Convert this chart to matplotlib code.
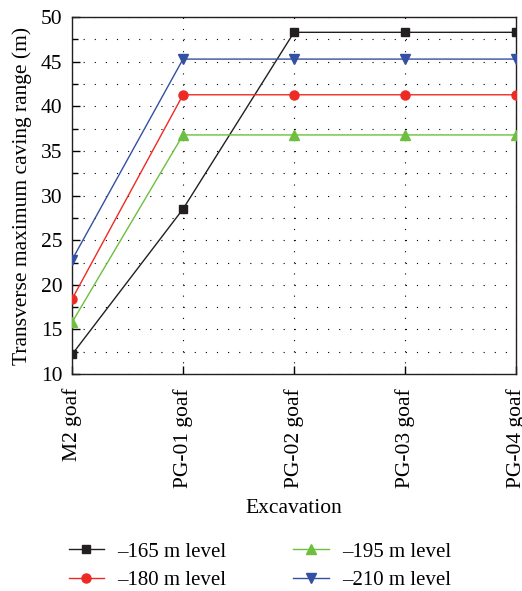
import matplotlib
matplotlib.use("Agg")
import matplotlib.pyplot as plt
from matplotlib.ticker import MultipleLocator

plt.rcParams['font.family'] = ['Liberation Serif', 'DejaVu Serif']

categories = ["M2 goaf", "PG-01 goaf", "PG-02 goaf", "PG-03 goaf", "PG-04 goaf"]
s165 = [12.2, 28.5, 48.3, 48.3, 48.3]
s180 = [18.4, 41.3, 41.3, 41.3, 41.3]
s195 = [15.8, 36.8, 36.8, 36.8, 36.8]
s210 = [22.8, 45.3, 45.3, 45.3, 45.3]
labels = ["\u2013165 m level", "\u2013180 m level", "\u2013195 m level", "\u2013210 m level"]

fig = plt.figure(figsize=(5.22, 5.91), dpi=100)
ax = fig.add_axes([0.138, 0.367, 0.8505, 0.604])

x = list(range(len(categories)))
series = [
    (s165, '#231f20', 's', 5.5),
    (s180, '#ee2a24', 'o', 6.5),
    (s195, '#6cbf3f', '^', 7),
    (s210, '#3350a3', 'v', 7),
]
handles = []
for (vals, col, mk, ms), lab in zip(series, labels):
    h, = ax.plot(x, vals, color=col, marker=mk, markersize=ms, linewidth=1.0,
                 label=lab, zorder=3)
    handles.append(h)

ax.set_xlim(0, 4)
ax.set_ylim(10, 50)
ax.set_xticks(x)
ax.set_xticklabels(categories, rotation=90, fontsize=15.5)
ax.yaxis.set_major_locator(MultipleLocator(5))
ax.yaxis.set_minor_locator(MultipleLocator(2.5))
ax.tick_params(axis='y', which='major', direction='in', length=6, labelsize=15.5, width=1, pad=7)
ax.tick_params(axis='y', which='minor', direction='in', length=4, width=1)
ax.tick_params(axis='x', which='major', direction='in', length=6, width=1, pad=10)

ax.grid(True, which='both', axis='y', color='black', linestyle=(0, (1, 9)), linewidth=0.8)
ax.grid(True, which='major', axis='x', color='black', linestyle=(0, (1, 9)), linewidth=0.8)
ax.set_axisbelow(True)
for sp in ax.spines.values():
    sp.set_color('#231f20')
    sp.set_linewidth(1.0)

ax.set_ylabel("Transverse maximum caving range (m)", fontsize=15.5, labelpad=6)
ax.set_xlabel("Excavation", fontsize=15.5, labelpad=8)

fig.legend(handles=handles, labels=labels, loc='center',
           bbox_to_anchor=(0.498, 0.0423), ncol=2, frameon=False, fontsize=15,
           handlelength=1.7, columnspacing=3.2, labelspacing=0.41, handletextpad=0.65,
           borderpad=0.0)

fig.savefig("out.png", dpi=100)
